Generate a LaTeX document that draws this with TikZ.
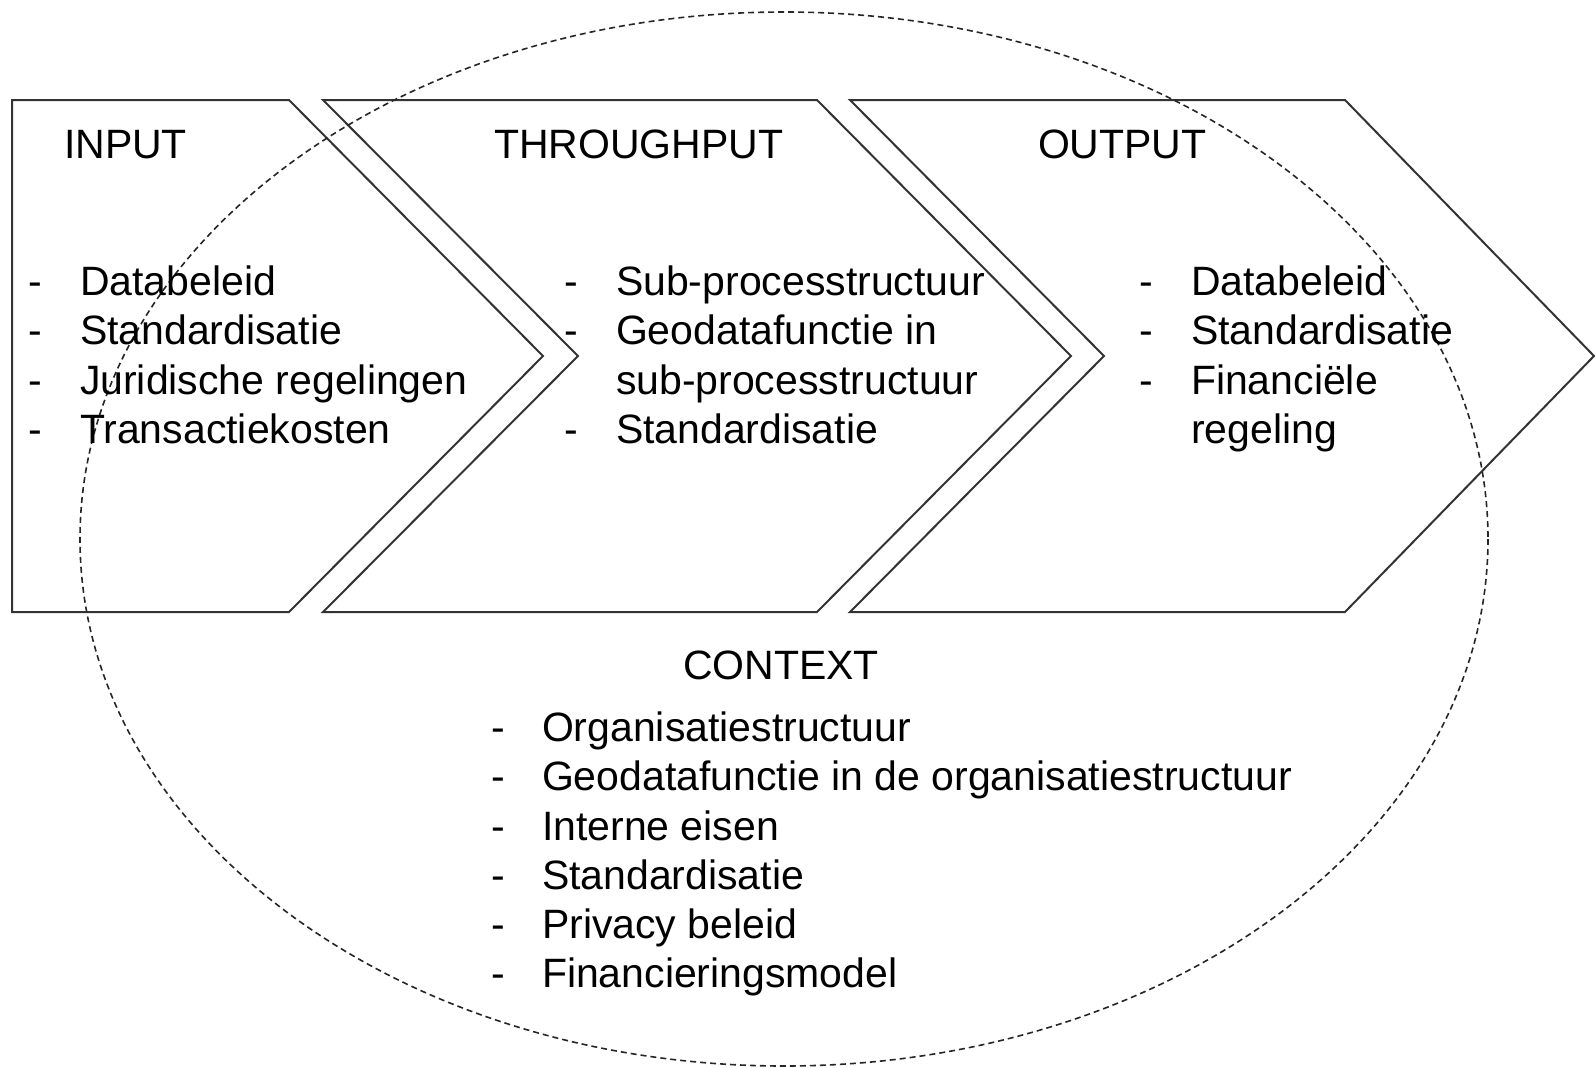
\documentclass[tikz,border=0pt]{standalone}
\usepackage{fontspec}
\setmainfont{Liberation Sans}
\begin{document}
\begin{tikzpicture}[x=1pt,y=-1pt,
  chev/.style={draw=black!80, line width=2pt, line join=miter},
  ctx/.style={draw=black!85, line width=1.6pt, dash pattern=on 6pt off 4pt},
  txt/.style={anchor=base west, inner sep=0pt, outer sep=0pt, font=\fontsize{41}{49}\selectfont}]
\useasboundingbox (0,0) rectangle (1596,1068);
% chevrons
\draw[chev] (12,100) -- (289,100) -- (543,356) -- (289,612) -- (12,612) -- cycle;
\draw[chev] (323,100) -- (817,100) -- (1071,356) -- (817,612) -- (323,612) -- (578,356) -- cycle;
\draw[chev] (850,100) -- (1345,100) -- (1594,356) -- (1345,612) -- (850,612) -- (1104,356) -- cycle;
% context ellipse
\draw[ctx] (784,539) ellipse [x radius=704, y radius=527];
% headings
\node[txt] (hin) at (64,158) {INPUT};
\node[txt] (hthr) at (494,158) {THROUGHPUT};
\node[txt] (hout) at (1038,158) {OUTPUT};
\node[txt] (hctx) at (683,679.5) {CONTEXT};
% input list
\node[txt] (ind1) at (28,295.5) {-};
\node[txt] (in1) at (80,295.5) {Databeleid};
\node[txt] (ind2) at (28,344.8) {-};
\node[txt] (in2) at (80,344.8) {Standardisatie};
\node[txt] (ind3) at (28,394.2) {-};
\node[txt] (in3) at (80,394.2) {Juridische regelingen};
\node[txt] (ind4) at (28,443.6) {-};
\node[txt] (in4) at (80,443.6) {Transactiekosten};
% throughput list
\node[txt] (thd1) at (564,295.5) {-};
\node[txt] (th1) at (616,295.5) {Sub-processtructuur};
\node[txt] (thd2) at (564,344.8) {-};
\node[txt] (th2) at (616,344.8) {Geodatafunctie in};
\node[txt] (th3) at (616,394.2) {sub-processtructuur};
\node[txt] (thd4) at (564,443.6) {-};
\node[txt] (th4) at (616,443.6) {Standardisatie};
% output list
\node[txt] (outd1) at (1139,295.5) {-};
\node[txt] (out1) at (1191,295.5) {Databeleid};
\node[txt] (outd2) at (1139,344.8) {-};
\node[txt] (out2) at (1191,344.8) {Standardisatie};
\node[txt] (outd3) at (1139,394.2) {-};
\node[txt] (out3) at (1191,394.2) {Financiële};
\node[txt] (out4) at (1191,443.6) {regeling};
% context list
\node[txt] (cd1) at (491,741.7) {-};
\node[txt] (c1) at (542,741.7) {Organisatiestructuur};
\node[txt] (cd2) at (491,790.9) {-};
\node[txt] (c2) at (542,790.9) {Geodatafunctie in de organisatiestructuur};
\node[txt] (cd3) at (491,840.1) {-};
\node[txt] (c3) at (542,840.1) {Interne eisen};
\node[txt] (cd4) at (491,889.3) {-};
\node[txt] (c4) at (542,889.3) {Standardisatie};
\node[txt] (cd5) at (491,938.5) {-};
\node[txt] (c5) at (542,938.5) {Privacy beleid};
\node[txt] (cd6) at (491,987.7) {-};
\node[txt] (c6) at (542,987.7) {Financieringsmodel};
\end{tikzpicture}
\end{document}
